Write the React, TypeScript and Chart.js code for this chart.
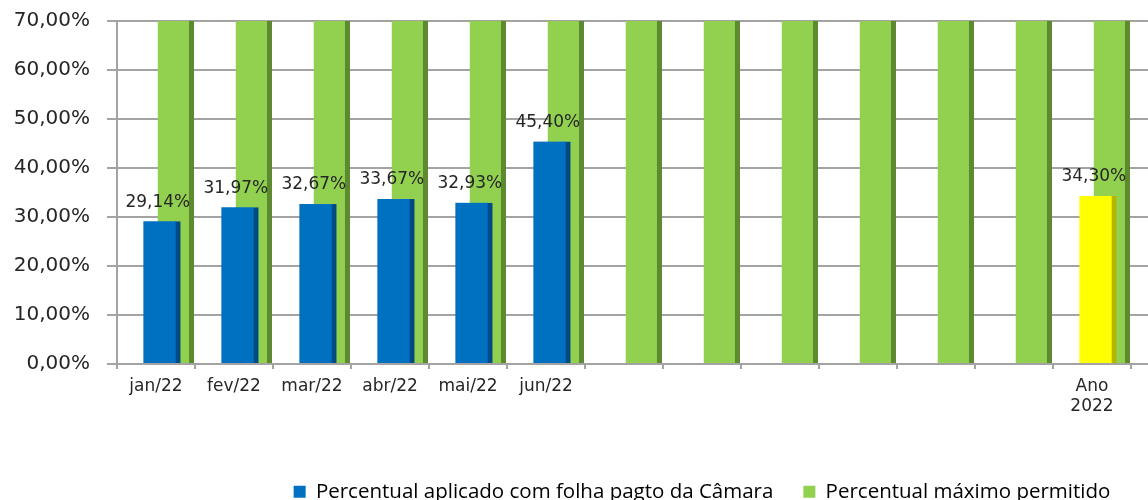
import React, { useEffect, useRef } from "react";
import { Chart, registerables } from "chart.js";

Chart.register(...registerables);

// ---- data ----
const categories = ["jan/22", "fev/22", "mar/22", "abr/22", "mai/22", "jun/22", "", "", "", "", "", "", "Ano 2022"];
const aplicadoMensal = [29.14, 31.97, 32.67, 33.67, 32.93, 45.4];
const aplicadoAnoLabel = "Ano 2022";
const aplicadoAno = 34.3;
const maximoPermitido = [70, 70, 70, 70, 70, 70, 70, 70, 70, 70, 70, 70, 70];
const yTickValues = [0, 10, 20, 30, 40, 50, 60, 70];
const seriesNames = ["Percentual aplicado com folha pagto da Câmara", "Percentual máximo permitido"];

const fmt = (v: number) => v.toFixed(2).replace(".", ",") + "%";

const BLUE = "#0070C0";
const BLUE_DARK = "#004A85";
const GREEN = "#92D050";
const GREEN_DARK = "#5C8A2E";
const YELLOW = "#FFFF00";
const YELLOW_DARK = "#B5B500";
const GRID = "#a3a3a3";
const TEXT = "#262626";

const BLUE_POS = 0.575;
const GREEN_POS = 0.752;
const EXTRA_CATS = 2; // plot area continues past the visible edge

const dataLabels = {
  id: "dataLabels",
  afterDatasetsDraw(chart: any) {
    const ctx = chart.ctx;
    ctx.save();
    ctx.font = "17px 'DejaVu Sans'";
    ctx.fillStyle = TEXT;
    ctx.textAlign = "center";
    ctx.textBaseline = "middle";
    [0, 2].forEach((di) => {
      const meta = chart.getDatasetMeta(di);
      meta.data.forEach((bar: any, j: number) => {
        const v = chart.data.datasets[di].data[j].y;
        ctx.fillText(fmt(v), bar.x - 4, bar.y - 19);
      });
    });
    ctx.restore();
  },
};

export default function App() {
  const ref = useRef<HTMLCanvasElement | null>(null);

  useEffect(() => {
    if (!ref.current) return;
    const anoIndex = categories.indexOf(aplicadoAnoLabel);
    const axisLabels: any[] = categories.map((c) => (c.includes(" ") ? c.split(" ") : c));
    for (let k = 0; k < EXTRA_CATS; k++) axisLabels.push("");
    const edge = { top: 0, right: 5, bottom: 0, left: 0 };
    const chart = new Chart(ref.current, {
      type: "bar",
      data: {
        labels: axisLabels,
        datasets: [
          {
            label: seriesNames[0],
            xAxisID: "xl",
            data: aplicadoMensal.map((v, i) => ({ x: i + BLUE_POS, y: v })),
            backgroundColor: BLUE,
            borderColor: BLUE_DARK,
            borderWidth: edge,
            borderSkipped: false,
            barThickness: 37,
            grouped: false,
            order: 0,
          },
          {
            label: seriesNames[1],
            xAxisID: "xl",
            data: maximoPermitido.map((v, i) => ({ x: i + GREEN_POS, y: v })),
            backgroundColor: GREEN,
            borderColor: GREEN_DARK,
            borderWidth: edge,
            borderSkipped: false,
            barThickness: 36,
            grouped: false,
            order: 1,
          },
          {
            label: aplicadoAnoLabel,
            xAxisID: "xl",
            data: [{ x: anoIndex + BLUE_POS, y: aplicadoAno }],
            backgroundColor: YELLOW,
            borderColor: YELLOW_DARK,
            borderWidth: edge,
            borderSkipped: false,
            barThickness: 37,
            grouped: false,
            order: 0,
          },
        ],
      },
      options: {
        animation: false,
        responsive: false,
        layout: { padding: { top: 21, left: 0, right: 0, bottom: 0 } },
        scales: {
          xl: {
            type: "linear",
            display: false,
            min: 0,
            max: categories.length + EXTRA_CATS,
            offset: false,
          },
          x: {
            type: "category",
            offset: true,
            border: { display: false },
            grid: {
              offset: true,
              drawOnChartArea: false,
              tickLength: 5,
              lineWidth: 2,
              color: GRID,
            },
            ticks: {
              autoSkip: false,
              maxRotation: 0,
              minRotation: 0,
              padding: 7,
              color: TEXT,
              font: { family: "'DejaVu Sans'", size: 17 },
            },
            afterFit: (s: any) => {
              s.height = 87.5;
              s.paddingLeft = 0;
              s.paddingRight = 0;
            },
          },
          y: {
            min: 0,
            max: 70,
            border: { display: true, color: GRID, width: 2 },
            grid: { color: GRID, lineWidth: 2, tickLength: 10 },
            afterBuildTicks: (s: any) => {
              s.ticks = yTickValues.map((v) => ({ value: v }));
            },
            ticks: {
              padding: 17,
              color: TEXT,
              font: { family: "'DejaVu Sans'", size: 20 },
              callback: (v: any) => fmt(Number(v)),
            },
            afterFit: (s: any) => {
              s.width = 117;
              s.paddingTop = 0;
              s.paddingBottom = 0;
            },
          },
        },
        plugins: {
          tooltip: { enabled: false },
          legend: {
            position: "bottom",
            fullSize: false,
            onClick: () => {},
            labels: {
              boxWidth: 12,
              boxHeight: 12,
              padding: 30,
              color: TEXT,
              font: { family: "'Open Sans'", size: 20.5 },
              generateLabels: () => [
                { text: seriesNames[0], fillStyle: BLUE, strokeStyle: BLUE, lineWidth: 0, hidden: false, datasetIndex: 0 },
                { text: seriesNames[1], fillStyle: GREEN, strokeStyle: GREEN, lineWidth: 0, hidden: false, datasetIndex: 1 },
              ],
            },
          },
        },
      },
      plugins: [dataLabels],
    } as any);
    return () => chart.destroy();
  }, []);

  const catW = 78;
  const canvasW = 117 + catW * (categories.length + EXTRA_CATS);

  return (
    <div
      style={{
        position: "fixed",
        left: 0,
        top: 0,
        width: 1148,
        height: 500,
        overflow: "hidden",
        background: "#fff",
      }}
    >
      <canvas ref={ref} width={canvasW} height={512} style={{ display: "block" }} />
    </div>
  );
}
